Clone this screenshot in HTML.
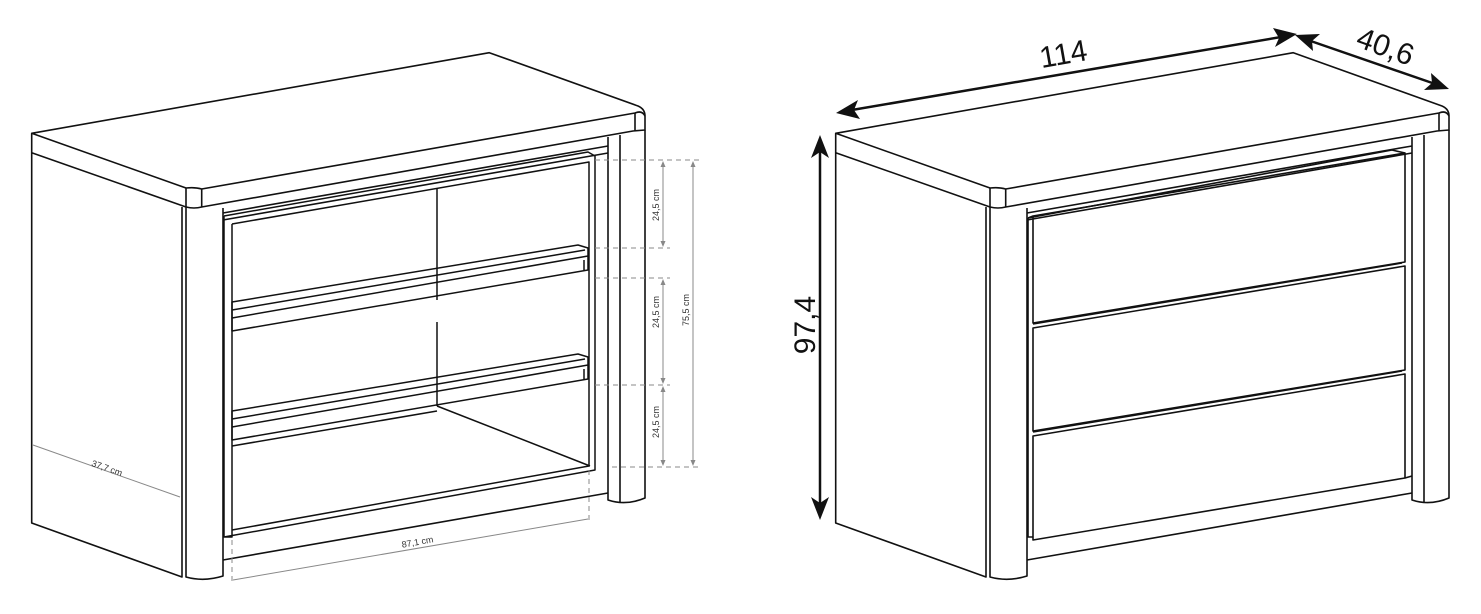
<!DOCTYPE html>
<html><head><meta charset="utf-8"><style>
html,body{margin:0;padding:0;background:#fff;}
svg{display:block;}
text{font-family:"Liberation Sans","DejaVu Sans",sans-serif;}
</style></head><body>
<svg width="1481" height="614" viewBox="0 0 1481 614" xmlns="http://www.w3.org/2000/svg">
<defs>
<g id="shell" fill="none" stroke="#111" stroke-width="1.6" stroke-linejoin="round">
  <path d="M31.7,133.3 L489.3,52.7 L638,106 Q645,109 645,116 L645,130 L633,131 L201.7,207 Q194,209 186,207 L31.7,152.7 Z" fill="#fff"/>
  <path d="M31.7,133.3 L186,188 Q195,187 201.7,189 L635,113 Q642,110 645,116"/>
  <path d="M201.7,189 L201.7,207 M635,113 L635,131 M186,188 L186,207"/>
  <path d="M31.7,152.7 L31.7,523 L182,577 L182,207"/>
  <path d="M186,207 L186,577 Q204,582 223,576 L223,208"/>
  <path d="M608,137 L608,500 Q626,506 645,498 L645,130 M620,135 L620,502"/>
  <path d="M223,213 L608,146 M223,220 L608,153"/>
  <path d="M223,560 L608,493"/>
</g>
</defs>

<use href="#shell"/>
<g fill="none" stroke="#111" stroke-width="1.5" stroke-linejoin="round">
  <path d="M224,216 L224,537 L232,537 L232,224 M224,216 L588,152 L595,156 L595,470 L224,537"/>
  <path d="M232,224 L589,162 L589,466 L232,530"/>
  <path d="M437,188 L437,300 M437,322 L437,406"/>
  <path d="M232,302 L578,245 L588,248 L588,256 L232,318 Z M232,310 L585,250"/>
  <path d="M588,256 L588,270 L232,331 L232,318 M584,260 L584,270"/>
  <path d="M232,411 L578,354 L588,357 L588,365 L232,427 Z M232,419 L585,359"/>
  <path d="M588,365 L588,379 L232,440 L232,427 M584,369 L584,379"/>
  <path d="M232,446 L437,411"/>
  <path d="M437,406 L590,466"/>
</g>
<g fill="none" stroke="#888" stroke-width="1">
  <path d="M595,160 H700 M595,248 H670 M595,278 H670 M595,385 H670 M612,467 H700" stroke-dasharray="5,4"/>
  <path d="M663,162 V246 M663,280 V383 M663,387 V465 M693,162 V465"/>
  <path d="M232,540 V584 M589,470 V520" stroke-dasharray="5,4"/>
  <path d="M233,580 L588,519"/>
  <path d="M33,445 L180,497"/>
</g>
<g fill="#888">
  <path d="M663,161 l-2.5,6 h5z M663,247 l-2.5,-6 h5z M663,279 l-2.5,6 h5z M663,384 l-2.5,-6 h5z M663,386 l-2.5,6 h5z M663,466 l-2.5,-6 h5z M693,161 l-2.5,6 h5z M693,466 l-2.5,-6 h5z"/>
</g>
<g font-size="9" fill="#333">
  <text transform="translate(659,205) rotate(-90)" text-anchor="middle">24,5 cm</text>
  <text transform="translate(659,312) rotate(-90)" text-anchor="middle">24,5 cm</text>
  <text transform="translate(659,422) rotate(-90)" text-anchor="middle">24,5 cm</text>
  <text transform="translate(689,310) rotate(-90)" text-anchor="middle">75,5 cm</text>
  <text transform="translate(106,471) rotate(19)" text-anchor="middle">37,7 cm</text>
  <text transform="translate(418,545) rotate(-10)" text-anchor="middle">87,1 cm</text>
</g>

<use href="#shell" x="804"/>
<g fill="none" stroke="#111" stroke-width="1.6" stroke-linejoin="round">
  <path d="M1028,218 L1028,537 L1033,537"/>
  <path d="M1028,218 L1392,150 L1405,153"/>
  <path d="M1033,216 L1405,153 L1405,262 L1033,323 Z M1028,218 L1033,216"/>
  <path d="M1033,328 L1405,266 L1405,370 L1033,431 Z M1033,324 L1402,263"/>
  <path d="M1033,436 L1405,374 L1405,478 L1033,540 Z M1033,432 L1402,371"/>
  <path d="M1405,478 L1412,476"/>
</g>
<g stroke="#111" stroke-width="2.5" fill="none">
  <path d="M846,111 L1287,36"/>
  <path d="M1302,38 L1441,86"/>
  <path d="M820,148 L820,505"/>
</g>
<g fill="#111">
  <path d="M836,113 L858,100 L854,110 L860,119 Z"/>
  <path d="M1297,34 L1275,47 L1279,38 L1273,28 Z"/>
  <path d="M1295,35 L1320,34 L1312,41 L1313,51 Z"/>
  <path d="M1449,89 L1424,90 L1432,83 L1431,73 Z"/>
  <path d="M820,135 L829,158 L820,152 L811,158 Z"/>
  <path d="M820,520 L829,497 L820,503 L811,497 Z"/>
</g>
<g font-size="30" fill="#111">
  <text transform="translate(1065,64) rotate(-10)" text-anchor="middle">114</text>
  <text transform="translate(1382,56) rotate(20)" text-anchor="middle">40,6</text>
  <text transform="translate(815,325) rotate(-90)" text-anchor="middle">97,4</text>
</g>
</svg>
</body></html>
